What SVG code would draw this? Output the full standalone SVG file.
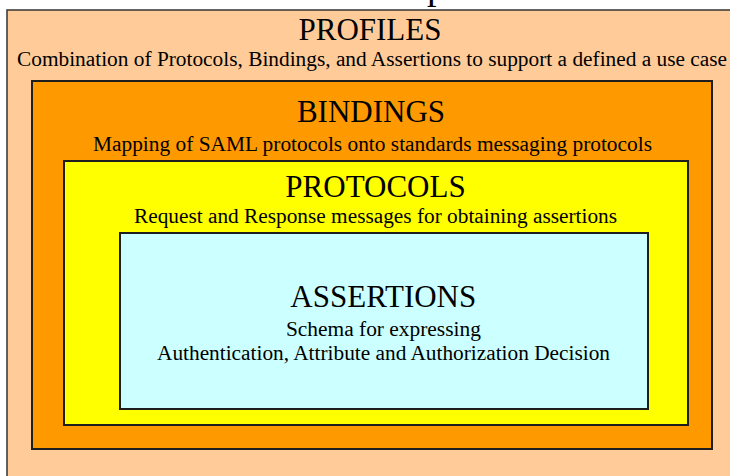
<svg xmlns="http://www.w3.org/2000/svg" width="730" height="476" viewBox="0 0 730 476">
  <style>
    .box { stroke: #1e1e1e; stroke-width: 2; }
    .t { font-family: "Liberation Serif", "Times New Roman", serif; fill: #000; text-anchor: middle; }
    .title { font-size: 31px; }
    .sub { font-size: 20px; }
  </style>
  <rect x="0" y="0" width="730" height="476" fill="#ffffff"/>
  <text x="427" y="-1" style="font-family:'Liberation Serif','Times New Roman',serif;font-size:38px;fill:#000">p</text>
  <g id="profiles">
    <rect x="7" y="10" width="740" height="480" fill="#ffcc99" stroke="#333" stroke-width="1.5"/>
    <text class="t title" x="370" y="40">PROFILES</text>
    <text class="t sub" x="372" y="66" textLength="710" lengthAdjust="spacingAndGlyphs">Combination of Protocols, Bindings, and Assertions to support a defined a use case</text>
  </g>
  <g id="bindings">
    <rect class="box" x="32" y="81" width="680" height="368" fill="#ff9900"/>
    <text class="t title" x="371" y="122">BINDINGS</text>
    <text class="t sub" x="372.5" y="151" textLength="559" lengthAdjust="spacingAndGlyphs">Mapping of SAML protocols onto standards messaging protocols</text>
  </g>
  <g id="protocols">
    <rect class="box" x="64" y="161" width="624" height="264" fill="#ffff00"/>
    <text class="t title" x="375.5" y="197">PROTOCOLS</text>
    <text class="t sub" x="375.5" y="223" textLength="483" lengthAdjust="spacingAndGlyphs">Request and Response messages for obtaining assertions</text>
  </g>
  <g id="assertions">
    <rect class="box" x="120" y="233" width="528" height="176" fill="#ccffff"/>
    <text class="t title" x="383.3" y="307">ASSERTIONS</text>
    <text class="t sub" x="383.4" y="336" textLength="195" lengthAdjust="spacingAndGlyphs">Schema for expressing</text>
    <text class="t sub" x="383.5" y="360" textLength="453" lengthAdjust="spacingAndGlyphs">Authentication, Attribute and Authorization Decision</text>
  </g>
  <g id="connectors"/>
</svg>
